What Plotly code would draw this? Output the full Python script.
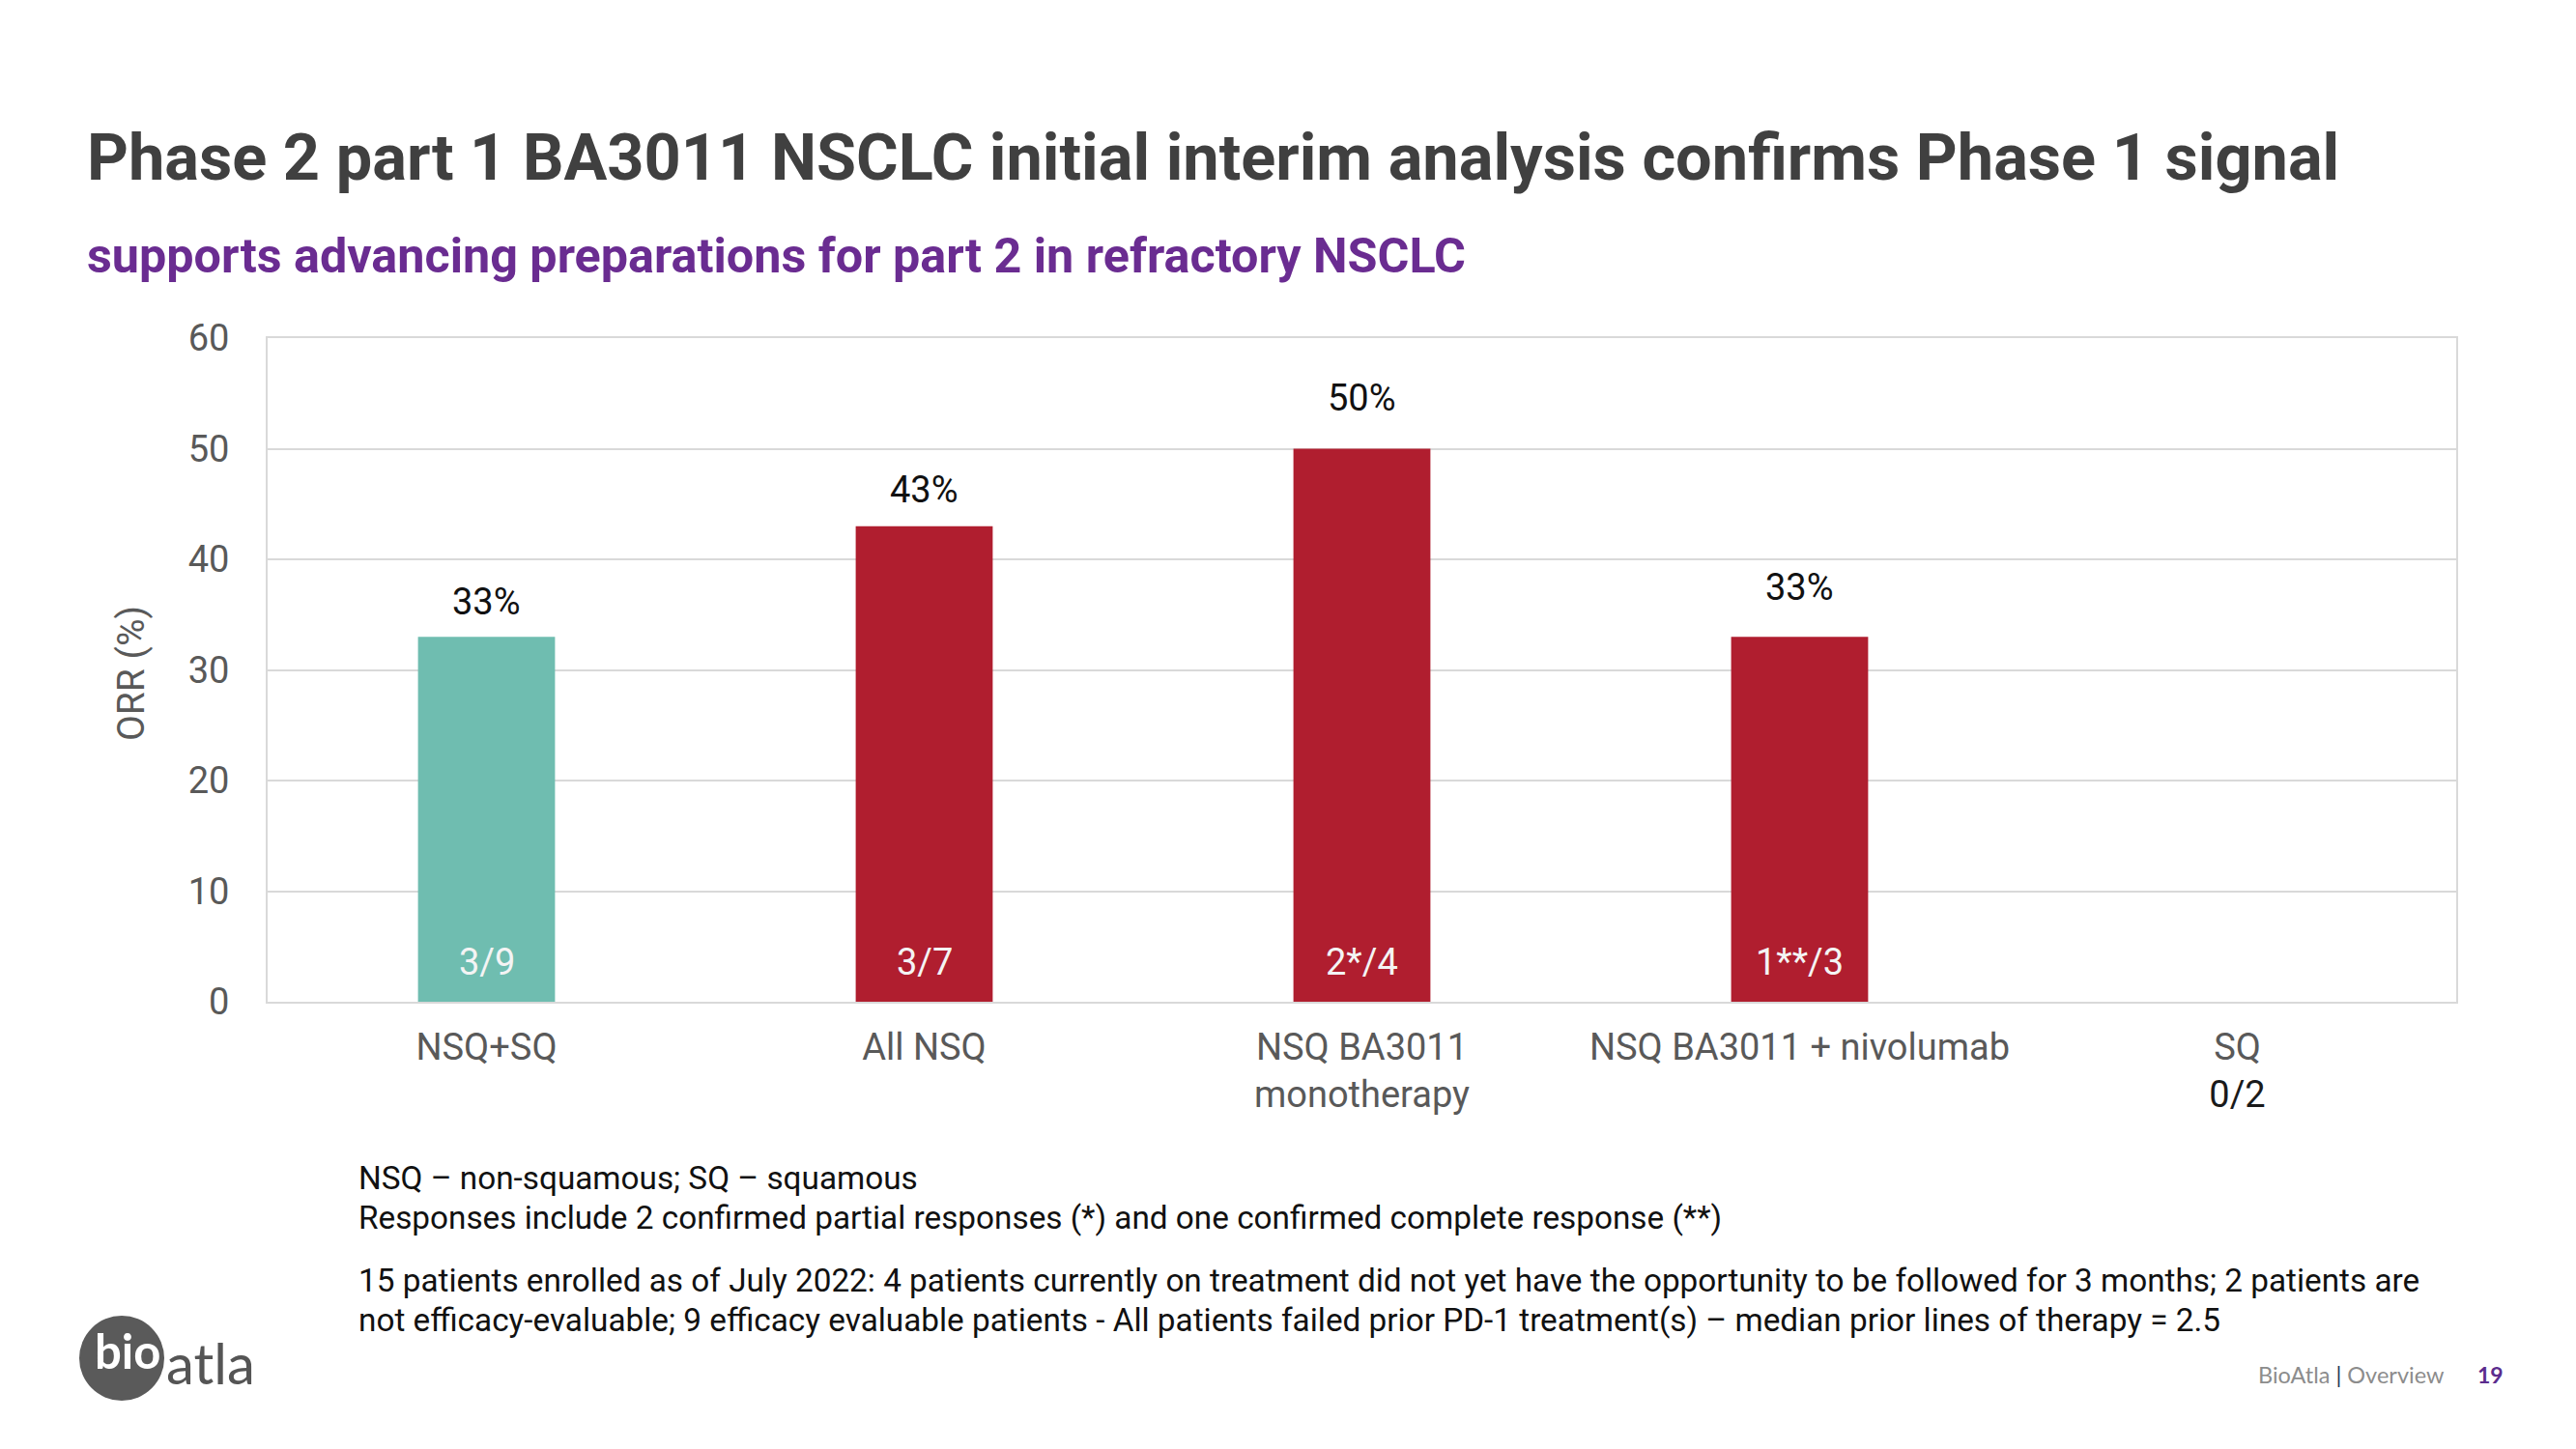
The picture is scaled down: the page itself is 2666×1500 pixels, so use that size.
import plotly.graph_objects as go

# ---- data ----
categories = ["NSQ+SQ", "All NSQ", "NSQ BA3011 monotherapy", "NSQ BA3011 + nivolumab", "SQ"]
tick_labels = ["NSQ+SQ", "All NSQ", "NSQ BA3011<br>monotherapy", "NSQ BA3011 + nivolumab",
               "SQ<br><span style='color:#1a1a1a'>0/2</span>"]
orr_values = [33, 43, 50, 33, 0]
pct_labels = ["33%", "43%", "50%", "33%", ""]
count_labels = ["3/9", "3/7", "2*/4", "1**/3", ""]
bar_colors = ["#6FBDB0", "#B01E2F", "#B01E2F", "#B01E2F", "#B01E2F"]
label_shift = [36, 38, 53, 51, 0]
y_ticks = [0, 10, 20, 30, 40, 50, 60]

title_text = "Phase 2 part 1 BA3011 NSCLC initial interim analysis confirms Phase 1 signal"
subtitle_text = "supports advancing preparations for part 2 in refractory NSCLC"
footnotes_1 = ["NSQ \u2013 non-squamous; SQ \u2013 squamous",
               "Responses include 2 confirmed partial responses (*) and one confirmed complete response (**)"]
footnotes_2 = ["15 patients enrolled as of July 2022: 4 patients currently on treatment did not yet have the opportunity to be followed for 3 months; 2 patients are",
               "not efficacy-evaluable; 9 efficacy evaluable patients - All patients failed prior PD-1 treatment(s) \u2013 median prior lines of therapy = 2.5"]

OFF = 8  # default page body margin
W, H = 2666 - 2 * OFF, 1500 - 2 * OFF
L, R, T, B = 277 - OFF, 2542 - OFF, 350 - OFF, 1037 - OFF


def px(x):
    return (x - OFF - L) / (R - L)


def py(y):
    return (B - (y - OFF)) / (B - T)


fig = go.Figure()
fig.add_trace(go.Bar(
    x=categories, y=orr_values, marker=dict(color=bar_colors, line=dict(width=0)),
    width=0.313, hoverinfo="skip", showlegend=False,
))

annotations = []
for cat, v, t, s in zip(categories, orr_values, pct_labels, label_shift):
    if t:
        annotations.append(dict(x=cat, y=v, xref="x", yref="y", text=t, showarrow=False,
                                yshift=s, font=dict(family="Roboto", size=38, color="#111111")))
for cat, t in zip(categories, count_labels):
    if t:
        annotations.append(dict(x=cat, y=0, xref="x", yref="y", text=t, showarrow=False,
                                yshift=41, font=dict(family="Roboto", size=38, color="#F4F4F4")))

# y-axis title
annotations.append(dict(x=px(136), y=py(697), xref="paper", yref="paper", text="ORR (%)",
                        showarrow=False, textangle=-90, xanchor="center", yanchor="middle",
                        font=dict(family="Roboto", size=39, color="#595959")))
# title & subtitle
annotations.append(dict(x=px(88), y=py(163), xref="paper", yref="paper", text="<b>" + title_text + "</b>",
                        showarrow=False, xanchor="left", yanchor="middle",
                        font=dict(family="Roboto", size=66.7, color="#404040")))
annotations.append(dict(x=px(88), y=py(264), xref="paper", yref="paper", text="<b>" + subtitle_text + "</b>",
                        showarrow=False, xanchor="left", yanchor="middle",
                        font=dict(family="Roboto", size=50.3, color="#6A2C91")))
# footnotes
for i, line in enumerate(footnotes_1):
    annotations.append(dict(x=px(369), y=py(1219 + 41 * i), xref="paper", yref="paper", text=line,
                            showarrow=False, xanchor="left", yanchor="middle",
                            font=dict(family="Roboto", size=33.3, color="#111111")))
for i, line in enumerate(footnotes_2):
    annotations.append(dict(x=px(369), y=py(1325 + 41 * i), xref="paper", yref="paper", text=line,
                            showarrow=False, xanchor="left", yanchor="middle",
                            font=dict(family="Roboto", size=33.3, color="#111111")))
# footer
annotations.append(dict(x=px(2532), y=py(1423), xref="paper", yref="paper",
                        text="BioAtla <span style='color:#2a3a5a'>|</span> Overview",
                        showarrow=False, xanchor="right", yanchor="middle",
                        font=dict(family="Lato", size=23.5, color="#8c8c8c")))
annotations.append(dict(x=px(2562), y=py(1423), xref="paper", yref="paper", text="<b>19</b>",
                        showarrow=False, xanchor="left", yanchor="middle",
                        font=dict(family="Lato", size=23, color="#5B2C8E")))
# logo text
annotations.append(dict(x=px(97), y=py(1428), xref="paper", yref="paper", text="<b>bio</b>",
                        showarrow=False, xanchor="left", yanchor="bottom", borderpad=0,
                        font=dict(family="Lato", size=49, color="#FFFFFF")))
annotations.append(dict(x=px(171), y=py(1446), xref="paper", yref="paper", text="atla",
                        showarrow=False, xanchor="left", yanchor="bottom", borderpad=0,
                        font=dict(family="Lato", size=58, color="#555555")))

shapes = [dict(type="circle", xref="paper", yref="paper", x0=px(82), x1=px(170),
               y0=py(1450), y1=py(1362), fillcolor="#5a5a5a", line=dict(width=0), layer="below")]

fig.update_layout(
    width=W, height=H,
    margin=dict(l=L, r=W - R, t=T, b=H - B, pad=0),
    paper_bgcolor="white", plot_bgcolor="white",
    bargap=0.687,
    annotations=annotations,
    shapes=shapes,
    font=dict(family="Roboto"),
)
fig.update_xaxes(
    tickmode="array", tickvals=categories, ticktext=tick_labels,
    tickfont=dict(family="Roboto", size=38, color="#595959"),
    showline=True, mirror=True, linecolor="#D9D9D9", linewidth=2,
    showgrid=False, ticks="", ticklabelstandoff=12, automargin=False,
)
fig.update_yaxes(
    range=[0, 60], tickvals=y_ticks,
    tickfont=dict(family="Roboto", size=38, color="#595959"),
    showline=True, mirror=True, linecolor="#D9D9D9", linewidth=2,
    showgrid=True, gridcolor="#D9D9D9", gridwidth=1.5, zeroline=False,
    ticks="", ticklabelstandoff=30, automargin=False,
)

fig.write_html("out.html")
